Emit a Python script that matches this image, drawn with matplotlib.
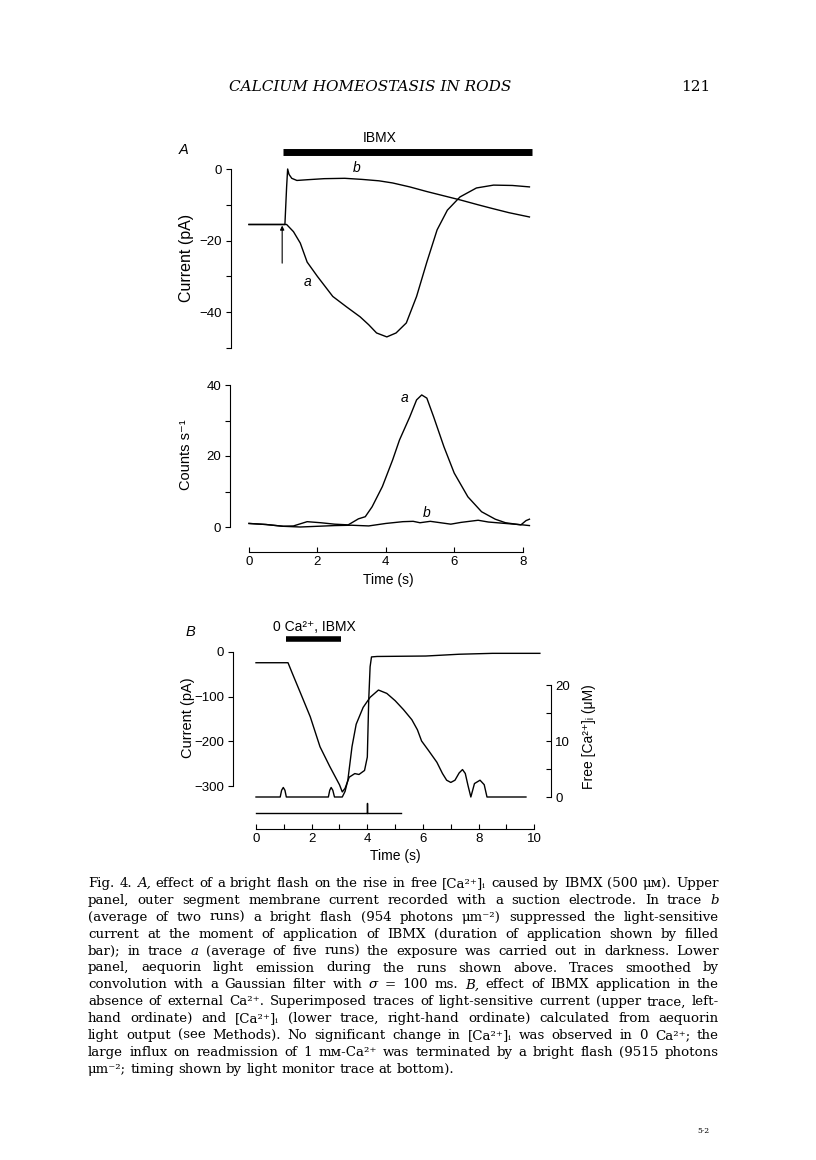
import matplotlib
matplotlib.use("Agg")
import matplotlib.pyplot as plt

# ---- data ----
# A, upper panel: membrane current (pA)
ta_cur = [0, 1.1, 1.3, 1.5, 1.7, 2.0, 2.45, 2.85, 3.25, 3.5, 3.73, 4.03, 4.3, 4.6, 4.9,
          5.2, 5.5, 5.8, 6.17, 6.65, 7.15, 7.7, 8.2]
cur_a = [-15.5, -15.5, -17.5, -20.7, -26, -30, -35.6, -38.5, -41.3, -43.5, -45.8, -46.9,
         -45.8, -43, -35.6, -26, -17, -11.5, -7.8, -5.3, -4.5, -4.6, -5.0]
tb_cur = [0, 1.05, 1.1, 1.13, 1.17, 1.25, 1.4, 1.7, 2.2, 2.8, 3.3, 3.8, 4.2, 4.7, 5.2,
          5.7, 6.2, 6.7, 7.1, 7.6, 8.2]
cur_b = [-15.5, -15.5, -5, 0, -1.5, -2.6, -3.2, -3.0, -2.7, -2.6, -2.9, -3.3, -3.9, -5.0,
         -6.3, -7.5, -8.7, -10.0, -11.0, -12.2, -13.4]
ibmx_on, ibmx_off = 1.0, 8.27
flash_t = 0.97

# A, lower panel: aequorin counts (s^-1)
ta_cnt = [0, 0.5, 1.0, 1.3, 1.7, 2.1, 2.5, 2.9, 3.2, 3.4, 3.6, 3.9, 4.2, 4.4, 4.7, 4.9,
          5.05, 5.2, 5.4, 5.7, 6.0, 6.4, 6.8, 7.2, 7.5, 7.95, 8.1, 8.2]
cnt_a = [1.0, 0.7, 0.2, 0.3, 1.5, 1.2, 0.8, 0.6, 2.3, 2.9, 5.7, 11.4, 18.9, 24.5, 31,
         35.8, 37.2, 36.3, 31, 22.6, 15.2, 8.5, 4.3, 2.2, 1.2, 0.6, 1.8, 2.2]
tb_cnt = [0, 0.5, 1.0, 1.5, 2.0, 2.5, 3.0, 3.5, 4.0, 4.5, 4.8, 5.0, 5.3, 5.6, 5.9, 6.2,
          6.7, 7.0, 7.5, 8.0, 8.2]
cnt_b = [1.0, 0.7, 0.2, 0.0, 0.2, 0.4, 0.5, 0.3, 1.0, 1.5, 1.6, 1.2, 1.6, 1.2, 0.8, 1.3,
         1.9, 1.4, 1.0, 0.6, 0.4]

# B: current (pA) and free [Ca2+]i (uM)
tB_cur = [0, 1.15, 1.3, 1.6, 1.95, 2.3, 2.65, 3.0, 3.1, 3.2, 3.35, 3.55, 3.7, 3.9, 4.0,
          4.05, 4.1, 4.15, 4.35, 6.1, 7.3, 8.5, 10.2]
curB = [-24, -24, -47, -92, -145, -212, -256, -297, -313, -305, -280, -272, -274, -265,
        -235, -108, -33, -11, -10, -9, -5, -3, -3]
tB_ca = [0, 0.87, 0.92, 0.98, 1.04, 1.09, 2.6, 2.65, 2.7, 2.76, 2.82, 3.1, 3.2, 3.3, 3.45,
         3.6, 3.85, 4.1, 4.4, 4.7, 5.0, 5.3, 5.6, 5.8, 5.95, 6.2, 6.5, 6.7, 6.85, 7.0,
         7.15, 7.3, 7.42, 7.52, 7.62, 7.72, 7.85, 8.05, 8.2, 8.3, 9.7]
caB = [0, 0, 1.2, 1.7, 1.2, 0, 0, 1.2, 1.7, 1.2, 0, 0, 1.0, 3.0, 9.0, 13, 16, 17.8, 19.1,
       18.5, 17.2, 15.6, 13.8, 12.0, 10, 8.3, 6.2, 4.2, 3.0, 2.6, 3.0, 4.3, 4.9, 4.2, 2.0,
       0, 2.4, 3.0, 2.2, 0, 0]
monitor_t = [0, 4.0, 4.0, 4.0, 5.2]
monitor_v = [0, 0, 1, 0, 0]
zero_ca_on, zero_ca_off = 1.08, 3.05

caption = [
    "Fig. 4. _A,_ effect of a bright flash on the rise in free [Ca²⁺]ᵢ caused by IBMX (500 μᴍ). Upper",
    "panel, outer segment membrane current recorded with a suction electrode. In trace _b_",
    "(average of two runs) a bright flash (954 photons μm⁻²) suppressed the light-sensitive",
    "current at the moment of application of IBMX (duration of application shown by filled",
    "bar); in trace _a_ (average of five runs) the exposure was carried out in darkness. Lower",
    "panel, aequorin light emission during the runs shown above. Traces smoothed by",
    "convolution with a Gaussian filter with _σ_ = 100 ms. _B,_ effect of IBMX application in the",
    "absence of external Ca²⁺. Superimposed traces of light-sensitive current (upper trace, left-",
    "hand ordinate) and [Ca²⁺]ᵢ (lower trace, right-hand ordinate) calculated from aequorin",
    "light output (see Methods). No significant change in [Ca²⁺]ᵢ was observed in 0 Ca²⁺; the",
    "large influx on readmission of 1 mᴍ-Ca²⁺ was terminated by a bright flash (9515 photons",
    "μm⁻²; timing shown by light monitor trace at bottom).",
]

# ---- figure ----
plt.rcParams['font.family'] = ['Liberation Sans', 'DejaVu Sans']
plt.rcParams['font.size'] = 9.5
plt.rcParams['axes.linewidth'] = 0.8

W, H = 816, 1160
fig = plt.figure(figsize=(W / 100, H / 100), dpi=100)
SANS = ['Liberation Sans', 'DejaVu Sans']
SERIF = ['DejaVu Serif', 'DejaVu Sans']
LW = 1.0


def px_axes(box, xref, yref):
    # box = left, top, right, bottom in pixels; refs = (pixel of zero, pixels per unit)
    l, t, r, b = box
    ax = fig.add_axes([l / W, 1 - b / H, (r - l) / W, (b - t) / H])
    ax.set_xlim((l - xref[0]) / xref[1], (r - xref[0]) / xref[1])
    ax.set_ylim((yref[0] - b) / yref[1], (yref[0] - t) / yref[1])
    ax.patch.set_visible(False)
    return ax


def ftext(x, y, s, **kw):
    return fig.text(x / W, 1 - y / H, s, **kw)


def clean(ax, keep):
    for k, sp in ax.spines.items():
        sp.set_visible(k in keep)


# A upper
ax1 = px_axes((231, 128, 545, 352), (249, 34.2), (169, 3.58))
clean(ax1, ['left'])
ax1.spines['left'].set_bounds(-50, 0)
ax1.xaxis.set_visible(False)
ax1.set_yticks([0, -20, -40])
ax1.set_yticks([-10, -30, -50], minor=True)
ax1.tick_params(axis='y', which='both', direction='out', length=3.5, width=0.8, pad=3)
ax1.plot(ta_cur, cur_a, color='black', lw=LW)
ax1.plot(tb_cur, cur_b, color='black', lw=LW)
ax1.plot([ibmx_on, ibmx_off], [4.75, 4.75], color='black', lw=5, solid_capstyle='butt')
ax1.text((ibmx_on + ibmx_off) / 2 - 0.8, 8.7, "IBMX", ha='center', va='center', fontsize=10)
ax1.annotate("", xy=(flash_t, -15.8), xytext=(flash_t, -26.3),
             arrowprops=dict(arrowstyle='-|>', color='black', lw=0.8,
                             mutation_scale=6, shrinkA=0, shrinkB=0))
ax1.text(1.7, -31.6, "a", style='italic', ha='center', va='center', fontsize=10)
ax1.text(3.16, 0.3, "b", style='italic', ha='center', va='center', fontsize=10)
ftext(184, 150, "A", style='italic', ha='center', va='center', fontsize=10.5)
ftext(186, 258, "Current (pA)", rotation=90, ha='center', va='center', fontsize=11.5)

# A lower
ax2 = px_axes((230, 372, 545, 600), (249, 34.2), (527, 3.55))
clean(ax2, ['left', 'bottom'])
ax2.spines['left'].set_bounds(0, 40)
ax2.spines['bottom'].set_position(('data', (527 - 552) / 3.55))
ax2.spines['bottom'].set_bounds(0, 8)
ax2.set_yticks([0, 20, 40])
ax2.set_yticks([10, 30], minor=True)
ax2.set_xticks([0, 2, 4, 6, 8])
ax2.tick_params(axis='y', which='both', direction='out', length=3.5, width=0.8, pad=3)
ax2.tick_params(axis='x', direction='in', length=3.5, width=0.8, pad=3)
ax2.plot(ta_cnt, cnt_a, color='black', lw=LW)
ax2.plot(tb_cnt, cnt_b, color='black', lw=LW)
ax2.text(4.56, 36.3, "a", style='italic', ha='center', va='center', fontsize=10)
ax2.text(5.2, 3.9, "b", style='italic', ha='center', va='center', fontsize=10)
ftext(186, 455, "Counts s⁻¹", rotation=90, ha='center', va='center', fontsize=10.5,
      family=SANS)
ftext(388, 580, "Time (s)", ha='center', va='center', fontsize=10)

# B
ax3 = px_axes((233, 612, 562, 840), (256, 27.83), (652, 0.447))
clean(ax3, ['left', 'bottom'])
ax3.spines['left'].set_bounds(-300, 0)
ax3.spines['bottom'].set_position(('data', (652 - 829) / 0.447))
ax3.spines['bottom'].set_bounds(0, 10)
ax3.set_yticks([0, -100, -200, -300])
ax3.set_xticks([0, 2, 4, 6, 8, 10])
ax3.set_xticks([1, 3, 5, 7, 9], minor=True)
ax3.tick_params(axis='y', direction='out', length=3.5, width=0.8, pad=3)
ax3.tick_params(axis='x', which='both', direction='in', length=3.5, width=0.8, pad=3)
ax3.plot(tB_cur, curB, color='black', lw=LW)
ax3.plot(monitor_t, [-360 + 22 * v for v in monitor_v], color='black', lw=LW)
ax3.plot([zero_ca_on, zero_ca_off], [30, 30], color='black', lw=4, solid_capstyle='butt')
ax3.text(0.61, 56, "0 Ca²⁺, IBMX", ha='left', va='center', fontsize=10, family=SANS)

ax4 = ax3.twinx()
ax4.set_ylim((797 - 840) / 5.6, (797 - 612) / 5.6)
ax4.patch.set_visible(False)
clean(ax4, ['right'])
ax4.spines['right'].set_position(('axes', (551 - 233) / (562 - 233)))
ax4.spines['right'].set_bounds(0, 20)
ax4.set_yticks([0, 10, 20])
ax4.set_yticks([5, 15], minor=True)
ax4.tick_params(axis='y', which='both', direction='in', length=3.5, width=0.8, pad=3)
ax4.plot(tB_ca, caB, color='black', lw=LW)
ftext(190, 632, "B", style='italic', ha='center', va='center', fontsize=10.5)
ftext(188, 718, "Current (pA)", rotation=90, ha='center', va='center', fontsize=10.5)
ftext(589, 737, "Free [Ca²⁺]ᵢ (μM)", rotation=90, ha='center', va='center', fontsize=10,
      family=SANS)
ftext(395, 856, "Time (s)", ha='center', va='center', fontsize=10)

# page header / footer
ftext(370, 87, "CALCIUM HOMEOSTASIS IN RODS", style='italic', ha='center', va='center',
      fontsize=11, family=SERIF)
ftext(696, 87, "121", ha='center', va='center', fontsize=11, family=SERIF)
ftext(703, 1131, "5·2", ha='center', va='center', fontsize=5.5, family=SERIF)

# caption, justified line by line
renderer = fig.canvas.get_renderer()
cap_l, cap_r = 88, 719
for i, line in enumerate(caption):
    yb = 887 + i * 16.9
    objs = []
    for w in line.split(' '):
        it = w.startswith('_') and w.endswith('_')
        objs.append(ftext(0, yb, w.strip('_'), style='italic' if it else 'normal',
                          ha='left', va='baseline', fontsize=9.6, family=SERIF))
    widths = [o.get_window_extent(renderer).width for o in objs]
    if i < len(caption) - 1:
        gap = (cap_r - cap_l - sum(widths)) / (len(objs) - 1)
    else:
        gap = 4.2
    x = cap_l
    for o, wd in zip(objs, widths):
        o.set_x(x / W)
        x += wd + gap

fig.savefig("out.png", dpi=100, facecolor='white')
